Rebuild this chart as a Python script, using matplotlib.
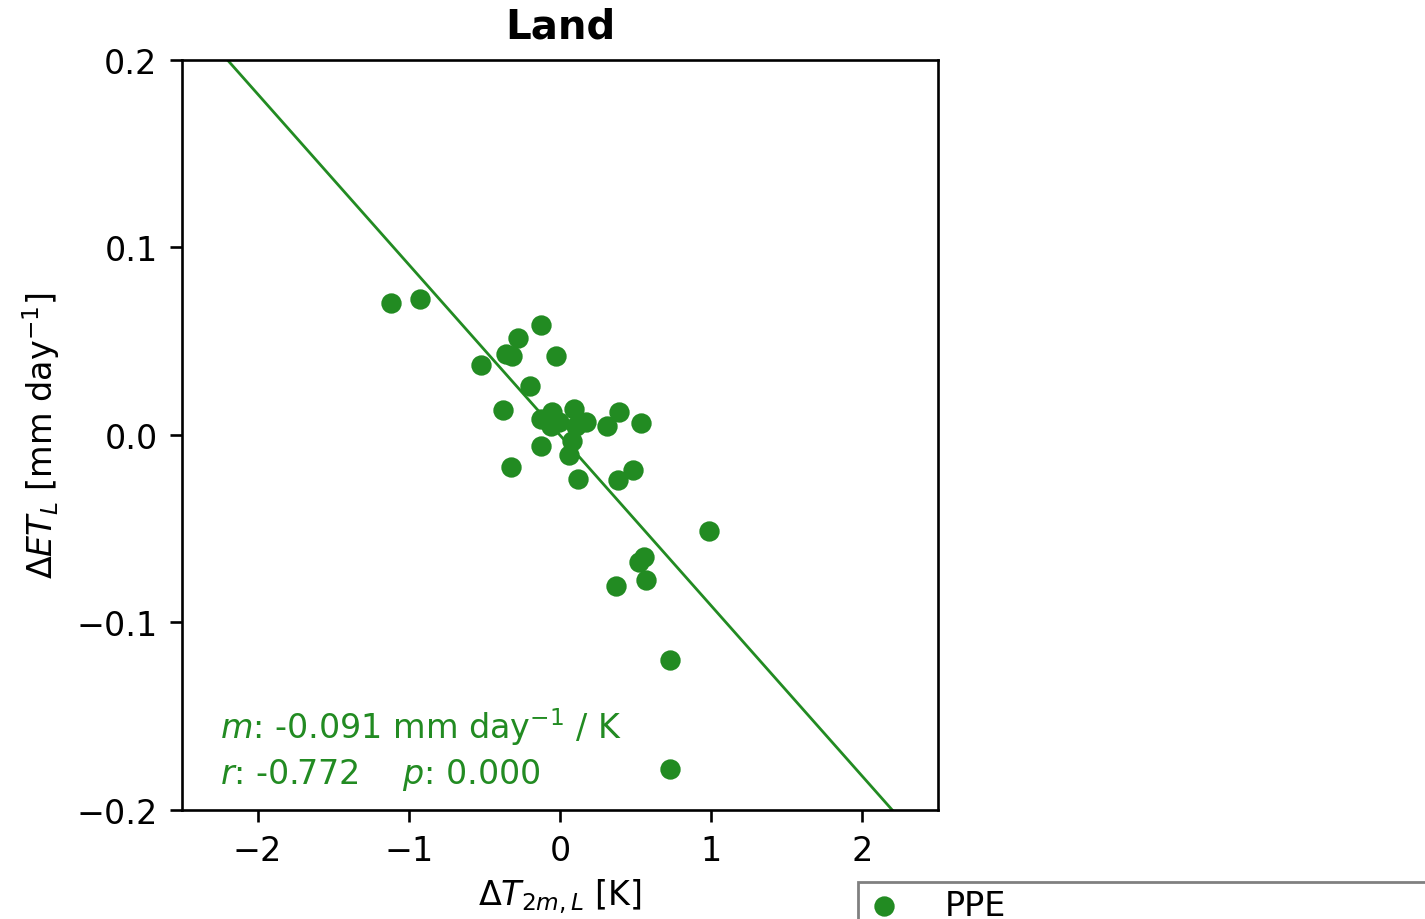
import numpy as np
import matplotlib
matplotlib.use("Agg")
import matplotlib.pyplot as plt

# Perturbed-parameter ensemble: land 2m temperature change vs. land ET change
dT_land = [-1.115, -0.927, -0.128, -0.278, -0.360, -0.316, -0.028, -0.521,
           -0.199, -0.377, -0.050, -0.128, -0.062, -0.006, 0.093, 0.104,
           0.170, 0.313, 0.391, 0.538, -0.128, 0.081, 0.060, -0.323,
           0.116, 0.386, 0.483, 0.987, 0.556, 0.523, 0.568, 0.369,
           0.726, 0.726]
dET_land = [0.0704, 0.0725, 0.0588, 0.0517, 0.0432, 0.0420, 0.0423, 0.0373,
            0.0263, 0.0133, 0.0121, 0.0085, 0.0050, 0.0069, 0.0136, 0.0050,
            0.0069, 0.0048, 0.0121, 0.0063, -0.0059, -0.0030, -0.0105, -0.0169,
            -0.0233, -0.0242, -0.0185, -0.0510, -0.0652, -0.0676, -0.0772, -0.0807,
            -0.1198, -0.1781]

# Regression statistics
slope = -0.091
intercept = -0.0001
r_value = -0.772
p_value = 0.000

color = "forestgreen"
fs = 12

fig = plt.figure(figsize=(7.125, 4.6), dpi=200)
ax = fig.add_axes([0.1277, 0.1185, 0.5306, 0.8152])

ax.scatter(dT_land, dET_land, color=color, s=40, label="PPE", zorder=3)

xfit = np.array([-2.5, 2.5])
ax.plot(xfit, slope * xfit + intercept, color=color, lw=1.0, zorder=2)

ax.set_xlim(-2.5, 2.5)
ax.set_ylim(-0.2, 0.2)
ax.set_xticks([-2, -1, 0, 1, 2])
ax.set_yticks([-0.2, -0.1, 0.0, 0.1, 0.2])
ax.tick_params(labelsize=fs, length=4.3, width=0.95, pad=4.5)
for sp in ax.spines.values():
    sp.set_linewidth(0.95)

ax.set_title("Land", fontsize=14.5, fontweight="bold", pad=8)
ax.set_xlabel(r"$\Delta T_{2m,L}$ [K]", fontsize=fs, labelpad=3)
ax.set_ylabel(r"$\Delta ET_L$ [mm day$^{-1}$]", fontsize=fs, labelpad=5)

ax.text(0.05, 0.024,
        f"$m$: {slope:.3f} mm day$^{{-1}}$ / K\n$r$: {r_value:.3f}    $p$: {p_value:.3f}",
        transform=ax.transAxes, color=color, fontsize=fs,
        ha="left", va="bottom", linespacing=1.32)

fig.legend(loc="upper left", bbox_to_anchor=(0.602, -0.3, 0.6, 0.3402),
           mode="expand", fontsize=fs, frameon=True, fancybox=False,
           edgecolor="0.5", framealpha=1, borderpad=0.2, handlelength=1.16,
           handletextpad=1.25, borderaxespad=0)

fig.savefig("out.png", dpi=200)
